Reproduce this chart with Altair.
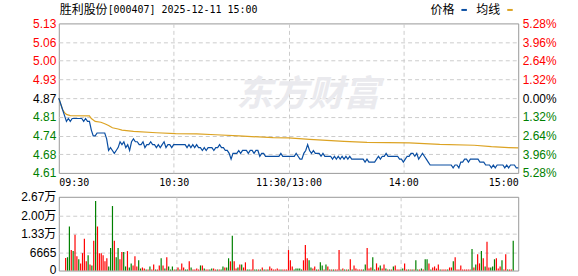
import altair as alt
import pandas as pd

PREV_CLOSE = 4.87
pct_steps = [-5.28, -3.96, -2.64, -1.32, 0.0, 1.32, 2.64, 3.96, 5.28]
price_ticks = [round(PREV_CLOSE * (1 + p / 100), 4) for p in pct_steps]

time_ticks = [0, 60, 120, 180, 240]
time_labels = ["09:30", "10:30", "11:30/13:00", "14:00", "15:00"]

vol_ticks = [0, 6665, 13330, 19995, 26660]
vol_labels = ["0", "6665", "1.33万", "2.00万", "2.67万"]

# minute price, 09:30 .. 11:30 (index 0..120)
price_am = [
    4.87, 4.85, 4.83, 4.81, 4.79, 4.80, 4.79, 4.80, 4.80, 4.80,
    4.80, 4.80, 4.80, 4.79, 4.80, 4.79, 4.79, 4.76, 4.74, 4.74,
    4.75, 4.75, 4.75, 4.75, 4.75, 4.73, 4.69, 4.70, 4.69, 4.68,
    4.69, 4.70, 4.72, 4.71, 4.72, 4.70, 4.71, 4.69, 4.72, 4.73,
    4.72, 4.72, 4.71, 4.71, 4.72, 4.70, 4.71, 4.71, 4.72, 4.71,
    4.71, 4.70, 4.71, 4.70, 4.71, 4.72, 4.70, 4.71, 4.71, 4.70,
    4.71, 4.71, 4.71, 4.71, 4.71, 4.71, 4.71, 4.70, 4.71, 4.70,
    4.71, 4.70, 4.71, 4.70, 4.70, 4.69, 4.70, 4.69, 4.70, 4.70,
    4.70, 4.69, 4.70, 4.70, 4.71, 4.70, 4.70, 4.69, 4.69, 4.68,
    4.66, 4.68, 4.68, 4.68, 4.69, 4.68, 4.69, 4.69, 4.69, 4.68,
    4.69, 4.69, 4.68, 4.69, 4.69, 4.67, 4.68, 4.68, 4.67, 4.67,
    4.67, 4.67, 4.67, 4.67, 4.67, 4.67, 4.68, 4.67, 4.67, 4.67,
    4.67,
]
# minute price, 13:01 .. 15:00 (index 121..240)
price_pm = [
    4.67, 4.67, 4.67, 4.68, 4.67, 4.66, 4.66, 4.68, 4.69, 4.71,
    4.69, 4.68, 4.69, 4.68, 4.68, 4.68, 4.67, 4.68, 4.67, 4.67,
    4.67, 4.67, 4.66, 4.67, 4.66, 4.67, 4.66, 4.67, 4.66, 4.67,
    4.66, 4.67, 4.66, 4.66, 4.66, 4.66, 4.66, 4.66, 4.66, 4.65,
    4.66, 4.65, 4.65, 4.65, 4.65, 4.66, 4.67, 4.66, 4.67, 4.67,
    4.68, 4.67, 4.67, 4.67, 4.67, 4.67, 4.67, 4.66, 4.66, 4.65,
    4.66, 4.67, 4.67, 4.68, 4.68, 4.67, 4.68, 4.66, 4.67, 4.68,
    4.67, 4.66, 4.65, 4.64, 4.64, 4.64, 4.64, 4.64, 4.64, 4.64,
    4.64, 4.64, 4.64, 4.64, 4.64, 4.63, 4.64, 4.64, 4.63, 4.65,
    4.65, 4.66, 4.66, 4.65, 4.66, 4.66, 4.66, 4.66, 4.66, 4.65,
    4.65, 4.65, 4.64, 4.64, 4.64, 4.63, 4.64, 4.63, 4.64, 4.64,
    4.64, 4.64, 4.63, 4.64, 4.63, 4.64, 4.64, 4.64, 4.63, 4.63,
]

# average-price line readings (minute index, value)
avg_idx = [0, 1, 2, 3, 4, 6, 16, 17, 19, 22, 24, 26, 28, 31, 33, 39, 51, 61, 72,
           82, 94, 112, 120, 131, 149, 161, 183, 199, 217, 226, 235, 240]
avg_val = [4.870, 4.850, 4.830, 4.820, 4.814, 4.810, 4.809, 4.800, 4.790, 4.787,
           4.782, 4.776, 4.768, 4.764, 4.760, 4.756, 4.751, 4.748, 4.747, 4.744,
           4.740, 4.734, 4.733, 4.728, 4.721, 4.718, 4.716, 4.711, 4.708, 4.703,
           4.700, 4.699]

# volume, 09:30 .. 11:30 (index 0..120), r = up (red), g = down (green)
vol_am = [
    0,
    4566, 4813, 15919, 7404, 7034, 12957, 5183, 4072, 2591, 6293,
    11476, 3332, 5553, 2221, 1851, 10736, 25174, 15919, 6293, 6293,
    5553, 3332, 4442, 1481, 8144, 23323, 10736, 4813, 8144, 4072,
    6664, 6664, 1481, 7034, 1111, 2591, 1851, 5183, 1481, 3702,
    740, 1111, 740, 370, 370, 1481, 370, 2221, 370, 370,
    1851, 4442, 1851, 740, 4813, 1481, 370, 1481, 370, 370,
    1111, 370, 2591, 1111, 370, 370, 3332, 1111, 370, 370,
    740, 370, 1851, 1851, 740, 370, 370, 370, 740, 740,
    370, 370, 370, 370, 1481, 1111, 1111, 4442, 3332, 12587,
    3332, 740, 1111, 2221, 2221, 1111, 2962, 370, 370, 370,
    4072, 370, 370, 370, 370, 1111, 370, 370, 370, 1481,
    740, 370, 370, 740, 370, 370, 370, 370, 370, 7404,
]
dir_am = ("r" + "rggrgrrgrr" + "rrgrgrgrrr" + "rrrgggrggr" + "rggrggrrrg"
          + "grrgrgrrgr" + "rgrgrgggrg" + "rgrrggrgrr" + "rrgrgrrggr"
          + "rgrggrggrg" + "rrgrgrrggr" + "rggrgrgrgr" + "rrrrrgrrrr")
# volume, 13:01 .. 15:00 (index 121..240)
vol_pm = [
    3702, 1481,
    370, 740, 740, 740, 370, 3702, 9255, 4442, 3702, 1111,
    740, 1481, 370, 370, 2962, 1851, 370, 2221, 1481, 370,
    370, 370, 370, 370, 7404, 370, 740, 370, 370, 370,
    4072, 370, 1851, 740, 370, 370, 370, 370, 2221, 8144,
    740, 1111, 4813, 370, 2591, 1111, 1851, 740, 2221, 740,
    370, 370, 370, 1481, 1851, 370, 370, 370, 740, 2591,
    370, 370, 370, 370, 370, 3702, 370, 370, 740, 370,
    4072, 4072, 2591, 370, 1111, 1481, 740, 2221, 370, 370,
    370, 370, 370, 1111, 1111, 3332, 4813, 370, 370, 1851,
    370, 370, 370, 370, 370, 7774, 1111, 2221, 5923, 2591,
    7034, 4442, 1481, 10365, 1111, 1111, 1481, 4072, 4442, 740,
    1481, 3702, 370, 5923, 370, 370, 370, 10736,
]
dir_pm = ("rr" + "gggggrrrgg" + "rrgrggrgrg" + "rgrrrgrgrg" + "rgrrrrrggr"
          + "rrggrrgrrg" + "rgrgrrrggr" + "rgrgrggrgr" + "ggrgrrrrgr"
          + "rrgrrgrrrr" + "rrrrrgrgrr" + "grgrrgggrr" + "rgrrgrrg")

# ---------------------------------------------------------------- tables
price_df = pd.DataFrame({
    "i": list(range(len(price_am))) + [121 + k for k in range(len(price_pm))],
    "price": price_am + price_pm,
})
avg_df = pd.DataFrame({"i": avg_idx, "avg": avg_val})
vol_df = pd.DataFrame({
    "i": list(range(len(vol_am))) + [121 + k for k in range(len(vol_pm))],
    "vol": vol_am + vol_pm,
    "dir": list(dir_am[:len(vol_am)]) + list(dir_pm[:len(vol_pm)]),
})
dummy = pd.DataFrame({"a": [0]})


def label_expr(vals, labels):
    s = "''"
    for v, l in reversed(list(zip(vals, labels))):
        s = f"datum.value=={v}?'{l}':({s})"
    return s


W, H1, H2 = 461, 150, 74
GRID = "#cccccc"
DASH = [4, 3]
NUMFONT = "Liberation Sans, Noto Sans CJK SC"
MONO = "DejaVu Sans Mono"
CJK = "Noto Sans CJK SC"
RED, GREEN = "#ff0000", "#008000"
BLUE, GOLD = "#0a4ea2", "#dca323"

lo, hi = price_ticks[0], price_ticks[-1]
yscale = alt.Scale(domain=[lo, hi], nice=False, zero=False)
xscale = alt.Scale(domain=[0, 240], nice=False, zero=False)

x_grid_op = {"condition": {"test": "datum.value==0 || datum.value==240", "value": 0}, "value": 1}

x_top = alt.X("i:Q", scale=xscale, title=None, axis=alt.Axis(
    values=time_ticks, labelExpr=label_expr(time_ticks, time_labels),
    labelFlush=True, grid=True, gridColor=GRID, gridDash=DASH, gridOpacity=x_grid_op,
    domain=False, ticks=False, labelPadding=5, labelFont=MONO, labelFontSize=10,
    labelColor="#000000", title=None))

left_axis = alt.Axis(
    values=price_ticks, format=".2f", grid=True, gridColor=GRID, gridDash=DASH,
    gridOpacity={"condition": {"test": f"datum.value<{lo + 0.001} || datum.value>{hi - 0.001}", "value": 0}, "value": 1},
    domain=False, ticks=False, labelPadding=3, labelFont=NUMFONT, labelFontSize=12,
    labelColor={"condition": [
        {"test": f"datum.value>{PREV_CLOSE + 0.005}", "value": RED},
        {"test": f"datum.value<{PREV_CLOSE - 0.005}", "value": GREEN}], "value": "#000000"},
    title=None)

right_axis = alt.Axis(
    orient="right", values=price_ticks,
    labelExpr=f"format(abs(datum.value/{PREV_CLOSE}-1)*100,'.2f')+'%'",
    grid=False, domain=False, ticks=False, labelPadding=4, labelFont=NUMFONT,
    labelFontSize=12,
    labelColor={"condition": [
        {"test": f"datum.value>{PREV_CLOSE + 0.005}", "value": RED},
        {"test": f"datum.value<{PREV_CLOSE - 0.005}", "value": GREEN}], "value": "#000000"},
    title=None)

watermark = alt.Chart(dummy).mark_text(
    text="东方财富", font=CJK, fontSize=36, fontWeight="bold", fontStyle="italic",
    color="#eaeaee", align="center", baseline="middle").encode(x=alt.value(250), y=alt.value(72))

avg_line = alt.Chart(avg_df).mark_line(color=GOLD, strokeWidth=1.2).encode(
    x=x_top, y=alt.Y("avg:Q", scale=yscale, axis=None))
price_line = alt.Chart(price_df).mark_line(color=BLUE, strokeWidth=1.2).encode(
    x=x_top, y=alt.Y("price:Q", scale=yscale, axis=left_axis))
right_layer = alt.Chart(price_df).mark_line(opacity=0).encode(
    x=x_top, y=alt.Y("price:Q", scale=yscale, axis=right_axis))

t_name = alt.Chart(dummy).mark_text(text="胜利股份", font=CJK, fontSize=12, align="left",
                                    baseline="middle", color="#000000").encode(
    x=alt.value(1), y=alt.value(-13))
t_code = alt.Chart(dummy).mark_text(text="[000407] 2025-12-11 15:00", font=MONO, fontSize=10,
                                    align="left", baseline="middle", color="#000000").encode(
    x=alt.value(49), y=alt.value(-13))
lg1 = alt.Chart(dummy).mark_text(text="价格", font=CJK, fontSize=12, align="left",
                                 baseline="middle", color="#000000").encode(
    x=alt.value(373), y=alt.value(-13))
lg2 = alt.Chart(dummy).mark_text(text="均线", font=CJK, fontSize=12, align="left",
                                 baseline="middle", color="#000000").encode(
    x=alt.value(419), y=alt.value(-13))
dash1 = alt.Chart(dummy).mark_rule(color=BLUE, strokeWidth=2).encode(
    x=alt.value(404), x2=alt.value(409.5), y=alt.value(-13.5))
dash2 = alt.Chart(dummy).mark_rule(color=GOLD, strokeWidth=2).encode(
    x=alt.value(450), x2=alt.value(455.5), y=alt.value(-13.5))
bound_top = alt.Chart(dummy).mark_rule(color="white", strokeWidth=1).encode(
    x=alt.value(-58), x2=alt.value(520), y=alt.value(-21.5))

top = alt.layer(
    watermark, avg_line, price_line, right_layer, t_name, t_code, lg1, lg2, dash1, dash2, bound_top
).resolve_scale(y="independent").properties(width=W, height=H1)

x_bot = alt.X("i:Q", scale=xscale, title=None, axis=alt.Axis(
    values=time_ticks, labels=False, ticks=False, domain=False, grid=True,
    gridColor=GRID, gridDash=DASH, gridOpacity=x_grid_op, title=None))

bars = alt.Chart(vol_df).mark_bar(size=1.2).encode(
    x=x_bot,
    y=alt.Y("vol:Q", scale=alt.Scale(domain=[0, vol_ticks[-1]], nice=False), axis=alt.Axis(
        values=vol_ticks, labelExpr=label_expr(vol_ticks, vol_labels), grid=True,
        gridColor=GRID, gridDash=DASH,
        gridOpacity={"condition": {"test": f"datum.value==0 || datum.value=={vol_ticks[-1]}", "value": 0}, "value": 1},
        labelOffset={"condition": {"test": "datum.value==0", "value": -1.5}, "value": 0},
        domain=False, ticks=False, labelPadding=3, labelFont=NUMFONT, labelFontSize=12,
        labelColor="#000000", title=None)),
    color=alt.Color("dir:N", scale=alt.Scale(domain=["r", "g"], range=[RED, GREEN]), legend=None),
)
bound_bot = alt.Chart(dummy).mark_rule(color="white", strokeWidth=1).encode(
    x=alt.value(-58), x2=alt.value(520), y=alt.value(79.5))

bottom = alt.layer(bars, bound_bot).properties(width=W, height=H2)

chart = alt.vconcat(top, bottom, spacing=24, bounds="flush").properties(
    padding=0, background="white"
).configure_view(stroke="#999999", strokeWidth=1)

chart.save("out.html", embed_options={"renderer": "svg", "actions": False})
